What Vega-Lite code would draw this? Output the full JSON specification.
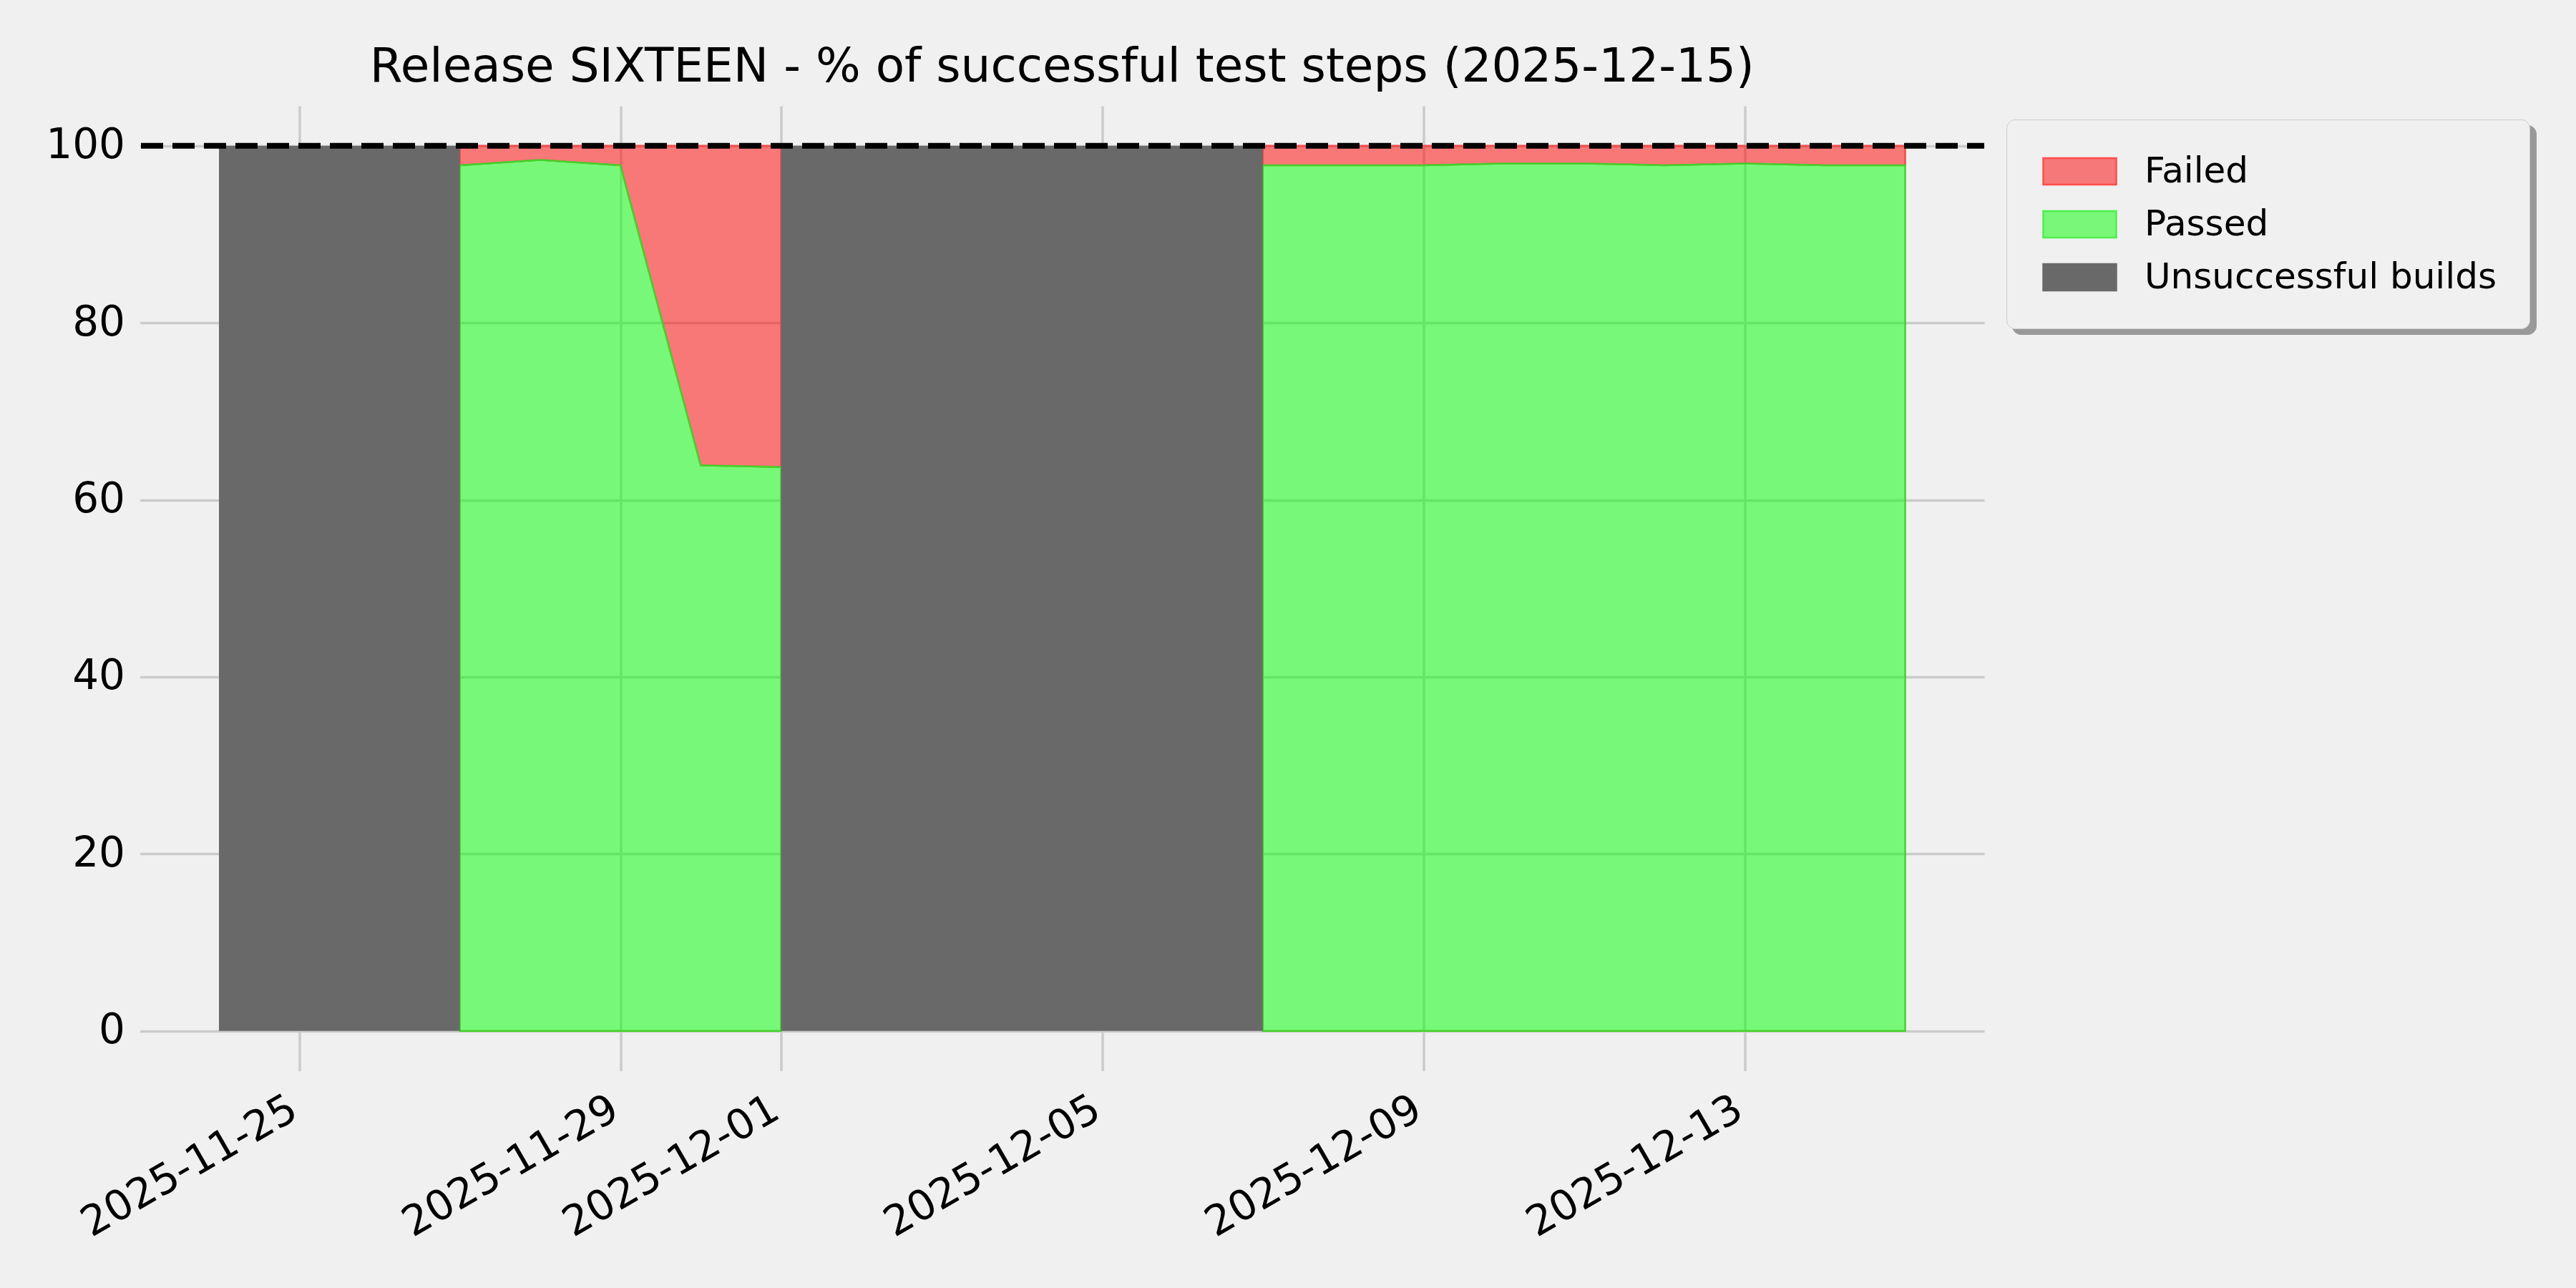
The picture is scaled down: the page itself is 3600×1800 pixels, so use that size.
{
  "$schema": "https://vega.github.io/schema/vega-lite/v6.json",
  "autosize": {"type": "none"},
  "width": 2577.5,
  "height": 1348.5,
  "padding": {"left": 195.5, "top": 148, "right": 827, "bottom": 303.5},
  "background": "#f0f0f0",
  "title": {
    "text": "Release SIXTEEN - % of successful test steps (2025-12-15)",
    "font": "DejaVu Sans",
    "fontSize": 66,
    "fontWeight": "normal",
    "color": "#000000",
    "anchor": "middle",
    "baseline": "alphabetic",
    "offset": 31,
    "dy": 63
  },
  "datasets": {
    "steps": [
      {"date": "2025-11-27T00:00:00", "passed": 97.8, "run": "a"},
      {"date": "2025-11-28T00:00:00", "passed": 98.4, "run": "a"},
      {"date": "2025-11-29T00:00:00", "passed": 97.8, "run": "a"},
      {"date": "2025-11-30T00:00:00", "passed": 63.9, "run": "a"},
      {"date": "2025-12-01T00:00:00", "passed": 63.7, "run": "a"},
      {"date": "2025-12-07T00:00:00", "passed": 97.8, "run": "b"},
      {"date": "2025-12-08T00:00:00", "passed": 97.8, "run": "b"},
      {"date": "2025-12-09T00:00:00", "passed": 97.8, "run": "b"},
      {"date": "2025-12-10T00:00:00", "passed": 98.0, "run": "b"},
      {"date": "2025-12-11T00:00:00", "passed": 98.0, "run": "b"},
      {"date": "2025-12-12T00:00:00", "passed": 97.8, "run": "b"},
      {"date": "2025-12-13T00:00:00", "passed": 98.0, "run": "b"},
      {"date": "2025-12-14T00:00:00", "passed": 97.8, "run": "b"},
      {"date": "2025-12-15T00:00:00", "passed": 97.8, "run": "b"}
    ],
    "builds": [
      {"date": "2025-11-24T00:00:00", "pct": 100, "run": "g1"},
      {"date": "2025-11-25T00:00:00", "pct": 100, "run": "g1"},
      {"date": "2025-11-26T00:00:00", "pct": 100, "run": "g1"},
      {"date": "2025-11-27T00:00:00", "pct": 100, "run": "g1"},
      {"date": "2025-12-01T00:00:00", "pct": 100, "run": "g2"},
      {"date": "2025-12-02T00:00:00", "pct": 100, "run": "g2"},
      {"date": "2025-12-03T00:00:00", "pct": 100, "run": "g2"},
      {"date": "2025-12-04T00:00:00", "pct": 100, "run": "g2"},
      {"date": "2025-12-05T00:00:00", "pct": 100, "run": "g2"},
      {"date": "2025-12-06T00:00:00", "pct": 100, "run": "g2"},
      {"date": "2025-12-07T00:00:00", "pct": 100, "run": "g2"}
    ]
  },
  "layer": [
    {
      "data": {"name": "steps"},
      "mark": {"type": "area", "fill": "#ff0000", "fillOpacity": 0.5, "stroke": "#f24a4a", "strokeWidth": 2.5, "interpolate": "linear"},
      "encoding": {
        "x": {
          "field": "date", "type": "temporal",
          "scale": {"domain": [
            {"year": 2025, "month": 11, "date": 23, "hours": 0, "minutes": 22},
            {"year": 2025, "month": 12, "date": 15, "hours": 23, "minutes": 38}
          ]},
          "axis": {
            "values": [
              {"year": 2025, "month": 11, "date": 25},
              {"year": 2025, "month": 11, "date": 29},
              {"year": 2025, "month": 12, "date": 1},
              {"year": 2025, "month": 12, "date": 5},
              {"year": 2025, "month": 12, "date": 9},
              {"year": 2025, "month": 12, "date": 13}
            ],
            "format": "%Y-%m-%d",
            "labelAngle": -30,
            "labelAlign": "right",
            "labelBaseline": "top",
            "labelPadding": 24,
            "labelOffset": -22,
            "labelLimit": 1000,
            "labelOverlap": false,
            "labelFlush": false,
            "title": null
          }
        },
        "y": {
          "field": "passed", "type": "quantitative",
          "scale": {"domain": [-4.5, 104.5], "nice": false, "zero": false},
          "axis": {"values": [0, 20, 40, 60, 80, 100], "labelPadding": 21, "title": null}
        },
        "y2": {"datum": 100},
        "detail": {"field": "run"}
      }
    },
    {
      "data": {"name": "steps"},
      "mark": {"type": "area", "fill": "#00ff00", "fillOpacity": 0.5, "stroke": "#44d22c", "strokeWidth": 2.5, "interpolate": "linear"},
      "encoding": {
        "x": {"field": "date", "type": "temporal"},
        "y": {"field": "passed", "type": "quantitative"},
        "y2": {"datum": 0},
        "detail": {"field": "run"}
      }
    },
    {
      "data": {"name": "builds"},
      "mark": {"type": "area", "fill": "#696969", "fillOpacity": 1, "interpolate": "linear"},
      "encoding": {
        "x": {"field": "date", "type": "temporal"},
        "y": {"field": "pct", "type": "quantitative"},
        "y2": {"datum": 0},
        "detail": {"field": "run"}
      }
    },
    {
      "data": {"values": [{}]},
      "mark": {"type": "rule", "color": "#000000", "strokeWidth": 8, "strokeDash": [31, 13], "strokeDashOffset": 7},
      "encoding": {"y": {"datum": 100}}
    },
    {
      "data": {"values": []},
      "mark": {"type": "point", "opacity": 1},
      "encoding": {
        "shape": {
          "datum": "shadow", "type": "nominal",
          "scale": {"domain": ["shadow"], "range": ["M-1,-1H28.28V10.68H-1Z"]},
          "legend": {
            "title": null,
            "orient": "none",
            "legendX": 2616.5,
            "legendY": 27,
            "zindex": 0,
            "padding": 0,
            "fillColor": "#999999",
            "strokeColor": "#999999",
            "cornerRadius": 12,
            "labelExpr": "''",
            "labelFontSize": 1,
            "symbolSize": 2500,
            "symbolOffset": 0,
            "symbolFillColor": "transparent",
            "symbolStrokeColor": "transparent",
            "symbolStrokeWidth": 0
          }
        }
      }
    },
    {
      "data": {"values": []},
      "mark": {"type": "rect", "opacity": 1, "strokeWidth": 2.5},
      "encoding": {
        "fill": {
          "datum": "Failed", "type": "nominal",
          "scale": {"domain": ["Failed", "Passed", "Unsuccessful builds"], "range": ["#f77878", "#78f778", "#696969"]},
          "legend": {
            "title": null,
            "orient": "none",
            "legendX": 2608.5,
            "legendY": 19,
            "zindex": 1,
            "padding": 46,
            "fillColor": "#f0f0f0",
            "strokeColor": "#cccccc",
            "cornerRadius": 12,
            "labelFont": "DejaVu Sans",
            "labelFontSize": 50,
            "labelColor": "#000000",
            "labelLimit": 1000,
            "symbolType": "M-2.04,-0.74H2.04V0.74H-2.04Z",
            "symbolSize": 2500,
            "symbolOffset": 30,
            "labelOffset": 64,
            "rowPadding": 22,
            "symbolStrokeWidth": 2.5
          }
        },
        "stroke": {
          "datum": "Failed", "type": "nominal",
          "scale": {"domain": ["Failed", "Passed", "Unsuccessful builds"], "range": ["#ff4c4c", "#4def4d", "#696969"]},
          "legend": {
            "title": null,
            "orient": "none",
            "legendX": 2608.5,
            "legendY": 19,
            "zindex": 1,
            "padding": 46,
            "fillColor": "#f0f0f0",
            "strokeColor": "#cccccc",
            "cornerRadius": 12,
            "labelFont": "DejaVu Sans",
            "labelFontSize": 50,
            "labelColor": "#000000",
            "labelLimit": 1000,
            "symbolType": "M-2.04,-0.74H2.04V0.74H-2.04Z",
            "symbolSize": 2500,
            "symbolOffset": 30,
            "labelOffset": 64,
            "rowPadding": 22,
            "symbolStrokeWidth": 2.5
          }
        }
      }
    }
  ],
  "config": {
    "view": {"stroke": null},
    "axis": {
      "domain": false,
      "ticks": false,
      "tickSize": 0,
      "grid": true,
      "gridColor": "#cbcbcb",
      "gridWidth": 3.5,
      "labelFont": "DejaVu Sans",
      "labelFontSize": 58,
      "labelColor": "#000000"
    }
  }
}
